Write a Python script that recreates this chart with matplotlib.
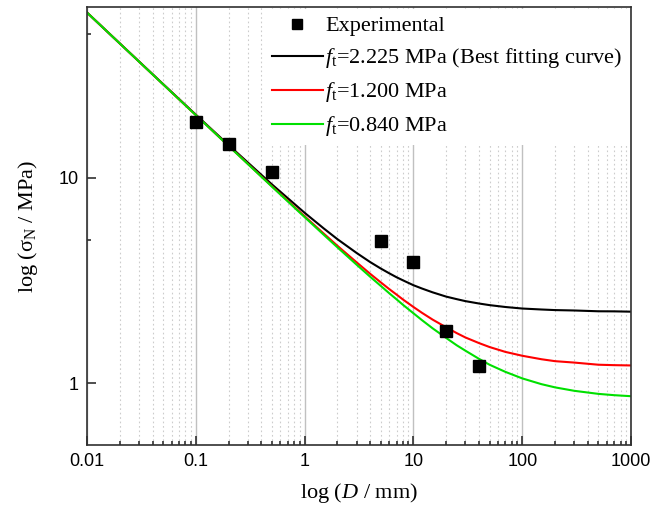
import numpy as np
import matplotlib
matplotlib.use("Agg")
import matplotlib.pyplot as plt
from matplotlib.ticker import FixedLocator, FixedFormatter, LogLocator, NullFormatter

plt.rcParams["mathtext.fontset"] = "custom"
plt.rcParams["mathtext.rm"] = "Liberation Serif"
plt.rcParams["mathtext.it"] = "Liberation Serif:italic"
plt.rcParams["mathtext.sf"] = "Liberation Sans"

# ---------------- data ----------------
# experimental points (specimen size D in mm, nominal strength in MPa)
exp_D = [0.1, 0.2, 0.5, 5, 10, 20, 40]
exp_sigma = [18.7, 14.6, 10.7, 4.95, 3.9, 1.79, 1.21]

# model curves, sampled along D
curve_D = [0.01, 0.02, 0.05, 0.1, 0.2, 0.5, 1, 1.5, 2, 3, 4, 5, 6, 7, 8, 10,
           12, 15, 20, 25, 30, 40, 50, 70, 100, 150, 200, 300, 500, 700, 1000]
sigma_ft_2225 = [63.91, 45.22, 28.65, 20.32, 14.46, 9.30, 6.76, 5.67, 5.03, 4.31,
                 3.89, 3.62, 3.428, 3.28, 3.17, 3.00, 2.89, 2.77, 2.64, 2.566,
                 2.51, 2.444, 2.40, 2.35, 2.31, 2.285, 2.27, 2.26, 2.24, 2.238,
                 2.23]
sigma_ft_1200 = [63.89, 45.18, 28.59, 20.23, 14.33, 9.11, 6.50, 5.35, 4.67, 3.88,
                 3.41, 3.10, 2.871, 2.70, 2.557, 2.35, 2.20, 2.04, 1.87, 1.753,
                 1.67, 1.568, 1.50, 1.42, 1.36, 1.308, 1.28, 1.26, 1.23, 1.224,
                 1.22]
sigma_ft_0840 = [63.88, 45.17, 28.58, 20.22, 14.31, 9.07, 6.44, 5.28, 4.59, 3.78,
                 3.30, 2.98, 2.74, 2.56, 2.41, 2.19, 2.026, 1.85, 1.66, 1.529,
                 1.44, 1.314, 1.23, 1.135, 1.055, 0.989, 0.954, 0.918, 0.887,
                 0.874, 0.864]

x_ticks = [0.01, 0.1, 1, 10, 100, 1000]
x_tick_labels = ["0.01", "0.1", "1", "10", "100", "1000"]
y_ticks = [1, 10]
y_tick_labels = ["1", "10"]
y_minor = [5, 50]

serif = "Liberation Serif"
sans = "Liberation Sans"

# ---------------- figure ----------------
fig = plt.figure(figsize=(6.54, 5.13), dpi=100)
ax = fig.add_axes([0.133, 0.1326, 0.832, 0.8538])

ax.set_xscale("log")
ax.set_yscale("log")

ax.plot(exp_D, exp_sigma, "s", color="black", markersize=9.2, zorder=5,
        label="Experimental")
line_kw = dict(lw=1.5, solid_joinstyle="round")
ax.plot(curve_D, sigma_ft_2225, color="black",
        label=r"$f_{\mathrm{t}}$=2.225 MPa (Best fitting curve)", **line_kw)
ax.plot(curve_D, sigma_ft_1200, color="#ff0000",
        label=r"$f_{\mathrm{t}}$=1.200 MPa", **line_kw)
ax.plot(curve_D, sigma_ft_0840, color="#00e000",
        label=r"$f_{\mathrm{t}}$=0.840 MPa", **line_kw)

ax.set_xlim(0.01, 1000)
ax.set_ylim(0.5, 68)

# axis ticks
ax.xaxis.set_major_locator(FixedLocator(x_ticks))
ax.xaxis.set_major_formatter(FixedFormatter(x_tick_labels))
ax.xaxis.set_minor_locator(LogLocator(base=10, subs=np.arange(2, 10)))
ax.xaxis.set_minor_formatter(NullFormatter())
ax.yaxis.set_major_locator(FixedLocator(y_ticks))
ax.yaxis.set_major_formatter(FixedFormatter(y_tick_labels))
ax.yaxis.set_minor_locator(FixedLocator(y_minor))
ax.yaxis.set_minor_formatter(NullFormatter())

ax.tick_params(which="both", direction="in", top=False, right=False,
               width=1.2, color="#303030")
ax.tick_params(which="major", length=6.5, labelsize=13, pad=6)
ax.tick_params(which="minor", length=3)
for lbl in ax.get_xticklabels() + ax.get_yticklabels():
    lbl.set_fontfamily(sans)

for s in ax.spines.values():
    s.set_linewidth(1.2)
    s.set_color("#303030")

# vertical grid only
ax.grid(True, which="major", axis="x", color="#c0c0c0", lw=1.0, ls="-")
ax.grid(True, which="minor", axis="x", color="#cccccc", lw=0.8, ls=(0, (1.5, 2.5)))
ax.set_axisbelow(True)

ax.set_xlabel(r"log ($D$ / mm)", fontsize=16, family=serif, labelpad=8)
ax.set_ylabel(r"log ($\mathrm{\sigma_N}$ / MPa)", fontsize=16, family=serif, labelpad=13)

leg = ax.legend(loc="upper right", prop={"family": serif, "size": 16},
                frameon=True, fancybox=False, edgecolor="none", facecolor="white",
                framealpha=1, handlelength=2.3, handletextpad=0.1,
                labelspacing=0.45, borderpad=0.3, borderaxespad=0.1,
                markerscale=0.75)

fig.savefig("out.png", dpi=100)
